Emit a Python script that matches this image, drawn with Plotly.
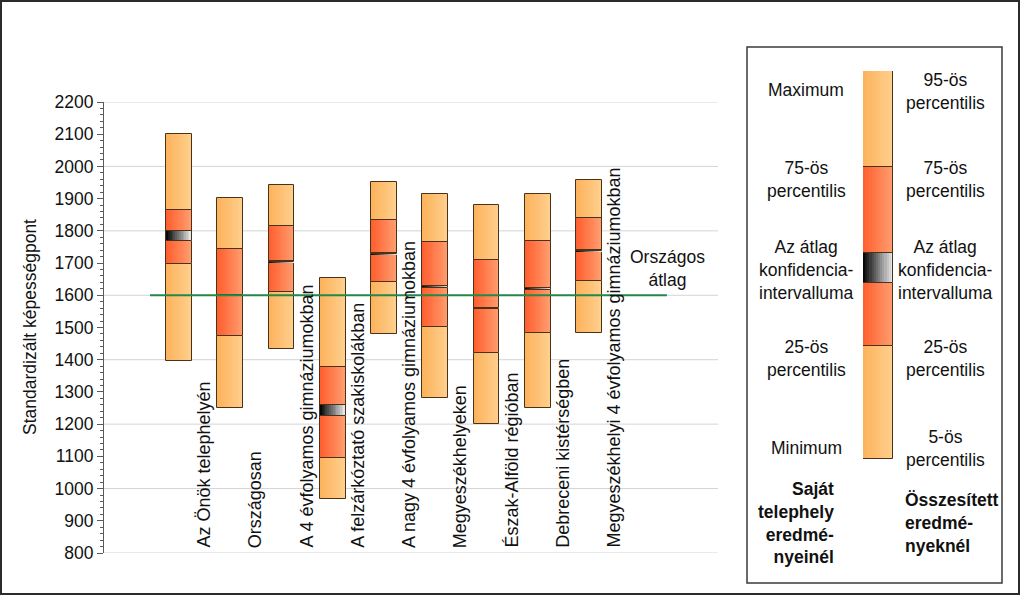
import plotly.graph_objects as go

# ---------------- data ----------------
categories = ["Az Önök telephelyén", "Országosan", "A 4 évfolyamos gimnáziumokban",
              "A felzárkóztató szakiskolákban", "A nagy 4 évfolyamos gimnáziumokban",
              "Megyeszékhelyeken", "Észak-Alföld régióban", "Debreceni kistérségben",
              "Megyeszékhelyi 4 évfolyamos gimnáziumokban"]
p05 = [1397, 1250, 1433, 969, 1479, 1280, 1202, 1250, 1484]
p25 = [1698, 1473, 1609, 1096, 1640, 1501, 1421, 1483, 1643]
ci_lo = [1767, 1598, 1702, 1225, 1728, 1622, 1558, 1615, 1736]
ci_hi = [1801, 1602, 1706, 1259, 1732, 1629, 1562, 1623, 1740]
p75 = [1865, 1744, 1815, 1377, 1833, 1766, 1710, 1768, 1840]
p95 = [2101, 1901, 1943, 1654, 1952, 1914, 1880, 1915, 1957]
national_avg = 1600
y_ticks = list(range(800, 2201, 100))

# legend key (relative scale 0-100)
key_bounds = [0, 29.2, 45.4, 53.1, 75.2, 100]

W, H = 1024, 597
FONT = "Liberation Sans, Arial, sans-serif"

ORANGE = ((252, 178, 92), (255, 208, 142))
RED = ((255, 94, 46), (255, 158, 112))
CI = ((0, 0, 0), (238, 238, 238))
EDGE = "#4a3218"


def mix(c1, c2, t):
    return "rgb(%d,%d,%d)" % tuple(round(a + (b - a) * t) for a, b in zip(c1, c2))


def add_segment(fig, xs, lows, highs, cols, bw, xa, ya, n=14):
    hts = [h - l for l, h in zip(lows, highs)]
    step = bw / n
    for k in range(n):
        t = (k + 0.5) / n
        w = step * 1.25 if k < n - 1 else step
        fig.add_trace(go.Bar(x=xs, base=lows, y=hts, width=[w] * len(xs),
                             offset=-bw / 2 + k * step,
                             marker=dict(color=mix(cols[0], cols[1], t), line=dict(width=0)),
                             xaxis=xa, yaxis=ya, showlegend=False, hoverinfo="skip"))
    fig.add_trace(go.Bar(x=xs, base=lows, y=hts, width=[bw] * len(xs), offset=-bw / 2,
                         marker=dict(color="rgba(0,0,0,0)", line=dict(width=1, color=EDGE)),
                         xaxis=xa, yaxis=ya, showlegend=False, hoverinfo="skip"))


fig = go.Figure()
xs = list(range(len(categories)))
BW = 0.5
add_segment(fig, xs, p05, p25, ORANGE, BW, "x", "y")
add_segment(fig, xs, p75, p95, ORANGE, BW, "x", "y")
add_segment(fig, xs, p25, p75, RED, BW, "x", "y")
add_segment(fig, xs, ci_lo, ci_hi, CI, BW, "x", "y")

# national average line
fig.add_trace(go.Scatter(x=[-0.566, 9.52], y=[national_avg, national_avg], mode="lines",
                         line=dict(color="#23894a", width=2), xaxis="x", yaxis="y",
                         showlegend=False, hoverinfo="skip"))

# legend key bar
kb = key_bounds
add_segment(fig, [0], [kb[0]], [kb[1]], ORANGE, 1.0, "x2", "y2")
add_segment(fig, [0], [kb[4]], [kb[5]], ORANGE, 1.0, "x2", "y2")
add_segment(fig, [0], [kb[1]], [kb[4]], RED, 1.0, "x2", "y2")
add_segment(fig, [0], [kb[2]], [kb[3]], CI, 1.0, "x2", "y2")

shapes = []
for g in range(800, 2201, 200):
    shapes.append(dict(type="line", xref="x domain", yref="y", x0=0, x1=1, y0=g, y1=g,
                       line=dict(color="#d4d4d4", width=1), layer="below"))
# outer frame
shapes.append(dict(type="rect", xref="paper", yref="paper", x0=1 / W, x1=1019 / W,
                   y0=1 - 594 / H, y1=1 - 1 / H, line=dict(color="#2b2b2b", width=2)))
# legend box
shapes.append(dict(type="rect", xref="paper", yref="paper", x0=747 / W, x1=1002 / W,
                   y0=1 - 583 / H, y1=1 - 47 / H, line=dict(color="#3a3a3a", width=1.5)))

ann = []
for i, c in enumerate(categories):
    ann.append(dict(x=i + 0.48, y=800, xref="x", yref="y", text=c, textangle=-90,
                    showarrow=False, xanchor="center", yanchor="bottom", yshift=3,
                    font=dict(family=FONT, size=18, color="#111")))
ann.append(dict(x=30 / W, y=1 - 327 / H, xref="paper", yref="paper",
                text="Standardizált képességpont", textangle=-90, showarrow=False,
                xanchor="center", yanchor="middle",
                font=dict(family=FONT, size=17.5, color="#111")))
ann.append(dict(x=667 / W, y=1 - 268 / H, xref="paper", yref="paper",
                text="Országos<br>átlag", showarrow=False, align="center",
                font=dict(family=FONT, size=17.5, color="#111")))


def lab(text, px, py, anchor="center", bold=False):
    t = "<b>%s</b>" % text if bold else text
    ann.append(dict(x=px / W, y=1 - py / H, xref="paper", yref="paper", text=t,
                    showarrow=False, xanchor=anchor, yanchor="middle",
                    align={"center": "center", "right": "right", "left": "left"}[anchor],
                    font=dict(family=FONT, size=17.5, color="#111")))


lab("Maximum", 806, 90)
lab("75-ös<br>percentilis", 806, 180)
lab("Az átlag<br>konfidencia-<br>intervalluma", 806, 270)
lab("25-ös<br>percentilis", 806, 358)
lab("Minimum", 806, 448)
lab("Saját<br>telephely<br>eredmé-<br>nyeinél", 836, 523, anchor="right", bold=True)
lab("95-ös<br>percentilis", 945, 91)
lab("75-ös<br>percentilis", 945, 180)
lab("Az átlag<br>konfidencia-<br>intervalluma", 945, 270)
lab("25-ös<br>percentilis", 945, 358)
lab("5-ös<br>percentilis", 945, 448)
lab("Összesített<br>eredmé-<br>nyeknél", 903, 523, anchor="left", bold=True)

fig.update_layout(
    width=W, height=H, margin=dict(l=0, r=0, t=0, b=0),
    paper_bgcolor="white", plot_bgcolor="white",
    barmode="overlay", bargap=0, showlegend=False,
    font=dict(family=FONT, size=17, color="#111"),
    xaxis=dict(domain=[104 / W, 718 / W], range=[-1.463, 10.517], visible=False, fixedrange=True),
    yaxis=dict(domain=[1 - 553 / H, 1 - 102 / H], range=[800, 2200], tickvals=y_ticks,
               showgrid=False, zeroline=False, showline=True, linecolor="#5a5a5a", linewidth=1,
               ticks="outside", ticklen=6, tickcolor="#5a5a5a",
               minor=dict(dtick=20, tick0=800, ticks="outside", ticklen=3, tickcolor="#5a5a5a", showgrid=False),
               tickfont=dict(family=FONT, size=17.5, color="#111"), automargin=False),
    xaxis2=dict(domain=[863 / W, 893 / W], range=[-0.5, 0.5], visible=False, anchor="y2"),
    yaxis2=dict(domain=[1 - 459 / H, 1 - 71 / H], range=[0, 100], visible=False, anchor="x2"),
    shapes=shapes, annotations=ann,
)

fig.write_html("out.html", config={"displayModeBar": False},
               post_script="document.body.style.margin='0';document.body.style.overflow='hidden';")
